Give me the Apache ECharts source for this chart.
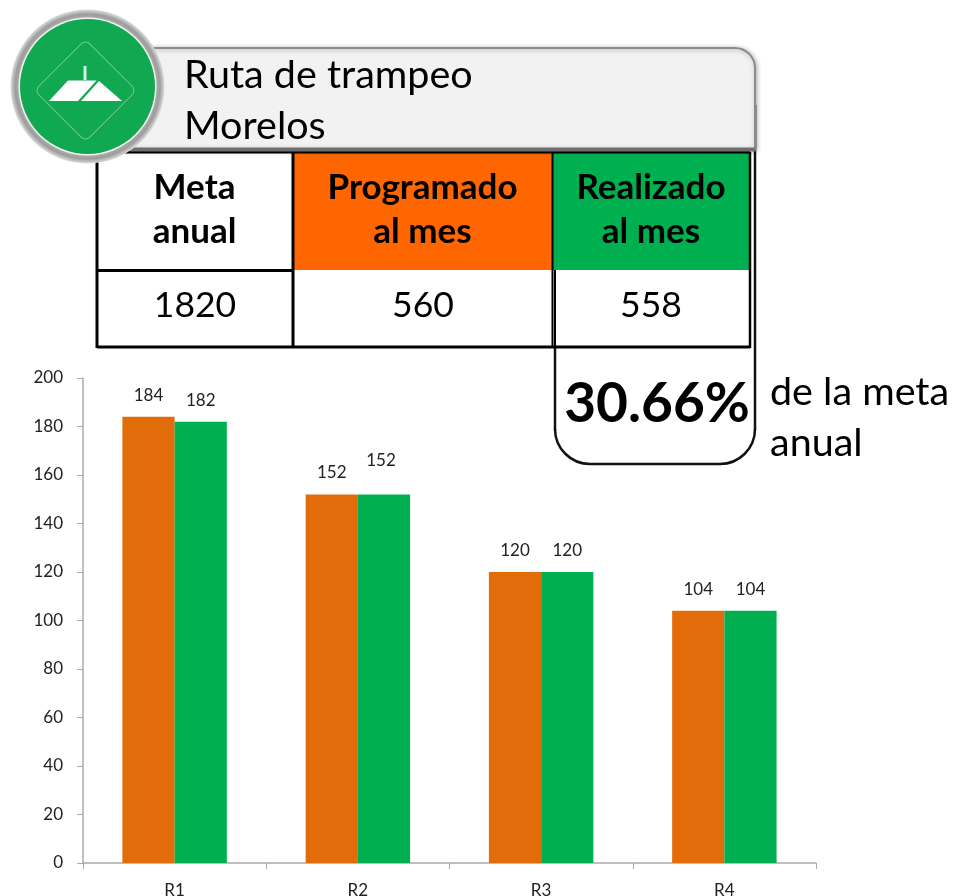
<!DOCTYPE html>
<html>
<head>
<meta charset="utf-8">
<style>html,body{margin:0;padding:0;background:#fff}#c{width:953px;height:896px}</style>
<script src="https://cdn.jsdelivr.net/npm/echarts@6/dist/echarts.min.js"></script>
</head>
<body>
<div id="c"></div>
<script>
const categories = ['R1', 'R2', 'R3', 'R4'];
const programado = [184, 152, 120, 104];
const realizado = [182, 152, 120, 104];
const titleLines = ['Ruta de trampeo', 'Morelos'];
const metaAnual = '1820';
const programadoMes = '560';
const realizadoMes = '558';
const porcentaje = '30.66%';

const FONT = 'Lato, "Open Sans", sans-serif';
const ORANGE_HEAD = '#FF6600', GREEN_HEAD = '#00B050';
const ORANGE_BAR = '#E36C0A', GREEN_BAR = '#00B050';

function txt(x, y, text, size, weight, align) {
  return {type:'text', x, y, z:30, style:{text, font:(weight||'normal')+' '+size+'px '+FONT, fill:'#000', align:align||'center', verticalAlign:'middle'}};
}
function ln(x1,y1,x2,y2,w,c) {
  return {type:'line', z:20, shape:{x1,y1,x2,y2}, style:{stroke:c||'#000', lineWidth:w||3}};
}
function box(x,y,width,height,fill,z,r) {
  return {type:'rect', z:z||10, shape:{x,y,width,height,r:r||0}, style:{fill}};
}

const graphics = [
  ln(555,347,555,430,2.5,'#111'),
  ln(755,150,755,430,2.5,'#111'),
  ln(590,464,720,464,2.5,'#111'),
  {type:'arc', z:20, shape:{cx:590,cy:429,r:35,startAngle:Math.PI/2,endAngle:Math.PI,clockwise:true}, style:{stroke:'#111',lineWidth:2.5,fill:null}},
  {type:'arc', z:20, shape:{cx:720,cy:429,r:35,startAngle:0,endAngle:Math.PI/2,clockwise:true}, style:{stroke:'#111',lineWidth:2.5,fill:null}},
  box(293,153,260,117,ORANGE_HEAD,10),
  box(553,153,197,117,GREEN_HEAD,10),
  ln(97,152,750,152,3),
  ln(97,270.5,293,270.5,3),
  ln(97,347,750,347,3),
  ln(97,152,97,348,3),
  ln(293,152,293,348,3),
  ln(552.5,152,552.5,348,2),
  ln(555,270,555,348,2),
  ln(750,152,750,348,2.5),
  txt(194.5,188,'Meta',35,'bold'),
  txt(194.5,232,'anual',35,'bold'),
  txt(422.5,188,'Programado',35,'bold'),
  txt(422.5,232,'al mes',35,'bold'),
  txt(651,188,'Realizado',35,'bold'),
  txt(651,232,'al mes',35,'bold'),
  txt(195,306,metaAnual,35.5),
  txt(423,306,programadoMes,35.5),
  txt(651,306,realizadoMes,35.5),
  txt(657,404,porcentaje,55,'bold'),
  txt(770,392,'de la meta',39.5,'normal','left'),
  txt(770,443,'anual',39.5,'normal','left'),
  // title banner
  {type:'rect', z:40, shape:{x:125,y:48,width:630,height:101,r:[20,20,0,0]}, style:{fill:'#F2F2F2', stroke:'#8C8C8C', lineWidth:2, shadowColor:'rgba(0,0,0,0.3)', shadowBlur:5, shadowOffsetX:1, shadowOffsetY:1}},
  Object.assign(ln(130,149.5,756,149.5,4,'#6f6f6f'),{z:41}),
  Object.assign(ln(756,105,756,150,2,'#8C8C8C'),{z:41}),
  Object.assign(txt(184,75,titleLines[0],39.5,'normal','left'),{z:45}),
  Object.assign(txt(184,126,titleLines[1],39.5,'normal','left'),{z:45}),
  // badge
  {type:'circle', z:50, shape:{cx:87.5,cy:86.5,r:77}, style:{fill:{type:'radial',x:0.5,y:0.5,r:0.5,colorStops:[
    {offset:0.88,color:'#B0B0B0'},{offset:0.94,color:'#9C9C9C'},{offset:0.98,color:'#C8C8C8'},{offset:1,color:'#DCDCDC'}]}}},
  {type:'circle', z:52, shape:{cx:87.5,cy:86.5,r:69}, style:{fill:'#F4F4F4'}},
  {type:'circle', z:53, shape:{cx:87.5,cy:86.5,r:67.5}, style:{fill:'#10A850'}},
  {type:'rect', z:54, x:85.5, y:90.5, rotation:Math.PI/4, shape:{x:-36,y:-36,width:72,height:72,r:6}, style:{fill:null, stroke:'#6FCB93', lineWidth:1}},
  {type:'polygon', z:55, shape:{points:[[49,101],[68,80.5],[96.5,80.5],[78,101]]}, style:{fill:'#fff'}},
  {type:'polygon', z:55, shape:{points:[[81,101],[99,81],[122,101]]}, style:{fill:'#fff'}},
  {type:'rect', z:55, shape:{x:83.5,y:66,width:3,height:14}, style:{fill:'#D7EFE0'}}
];

const axisCol = '#ABABAB';
const labelStyle = {color:'#222', fontFamily:FONT, fontSize:17};
const barLabel = {show:true,position:'top',distance:13,color:'#222',fontFamily:FONT,fontSize:17};

const chart = echarts.init(document.getElementById('c'), null, {renderer:'canvas'});
chart.setOption({
  animation:false,
  backgroundColor:'#fff',
  grid:{left:83, right:137, top:378, bottom:33, containLabel:false, outerBoundsMode:'none'},
  xAxis:{type:'category', data:categories,
    axisLine:{lineStyle:{color:axisCol,width:1.5}},
    axisTick:{show:true,alignWithLabel:false,length:6,lineStyle:{color:axisCol}},
    axisLabel:Object.assign({margin:19},labelStyle),
    splitLine:{show:false}},
  yAxis:{type:'value', min:0, max:200, interval:20,
    axisLine:{show:true,lineStyle:{color:axisCol,width:1.5}},
    axisTick:{show:true,length:6,lineStyle:{color:axisCol}},
    axisLabel:Object.assign({margin:20},labelStyle),
    splitLine:{show:false}},
  series:[
    {name:'Programado', type:'bar', data:programado, barGap:'0%', barCategoryGap:'43%',
     itemStyle:{color:ORANGE_BAR}, label:barLabel},
    {name:'Realizado', type:'bar',
     data:realizado.map((v,i)=> i===1 ? {value:v,label:{offset:[-3,-12]}} : v),
     itemStyle:{color:GREEN_BAR}, label:barLabel}
  ],
  graphic:{elements:graphics}
});
</script>
</body>
</html>
